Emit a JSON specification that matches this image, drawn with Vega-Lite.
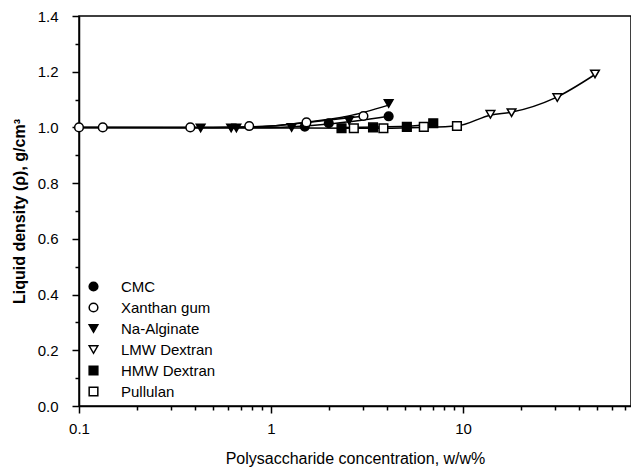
{
  "$schema": "https://vega.github.io/schema/vega-lite/v6.json",
  "width": 552,
  "height": 390,
  "autosize": {"type": "none"},
  "padding": {"left": 79, "top": 16, "right": 0, "bottom": 64},
  "background": "white",
  "config": {
    "font": "Liberation Sans",
    "view": {"stroke": "black", "strokeWidth": 1.5},
    "axis": {"domainColor": "black", "domainWidth": 1.5, "tickColor": "black", "tickWidth": 1.5, "grid": false, "labelColor": "black", "titleColor": "black", "labelFontSize": 15, "titleFontSize": 16, "labelFont": "Liberation Sans", "titleFont": "Liberation Sans", "labelFlush": false}
  },
  "datasets": {
    "pts": [
      {"series": "CMC", "conc": 1.5, "density": 1.003},
      {"series": "CMC", "conc": 2.0, "density": 1.015},
      {"series": "CMC", "conc": 4.1, "density": 1.04},
      {"series": "Xanthan gum", "conc": 0.1, "density": 1.0},
      {"series": "Xanthan gum", "conc": 0.133, "density": 1.0},
      {"series": "Xanthan gum", "conc": 0.38, "density": 1.0},
      {"series": "Xanthan gum", "conc": 0.77, "density": 1.005},
      {"series": "Xanthan gum", "conc": 1.53, "density": 1.018},
      {"series": "Xanthan gum", "conc": 3.03, "density": 1.041},
      {"series": "Na-Alginate", "conc": 0.43, "density": 0.998},
      {"series": "Na-Alginate", "conc": 0.62, "density": 0.998},
      {"series": "Na-Alginate", "conc": 0.66, "density": 0.998},
      {"series": "Na-Alginate", "conc": 1.28, "density": 1.0},
      {"series": "Na-Alginate", "conc": 2.55, "density": 1.025},
      {"series": "Na-Alginate", "conc": 4.1, "density": 1.086},
      {"series": "LMW Dextran", "conc": 13.9, "density": 1.047},
      {"series": "LMW Dextran", "conc": 17.9, "density": 1.053},
      {"series": "LMW Dextran", "conc": 31, "density": 1.107},
      {"series": "LMW Dextran", "conc": 48.7, "density": 1.192},
      {"series": "HMW Dextran", "conc": 2.33, "density": 0.997},
      {"series": "HMW Dextran", "conc": 3.4, "density": 1.0},
      {"series": "HMW Dextran", "conc": 5.1, "density": 1.002},
      {"series": "HMW Dextran", "conc": 7.0, "density": 1.015},
      {"series": "Pullulan", "conc": 2.7, "density": 0.997},
      {"series": "Pullulan", "conc": 3.85, "density": 0.997},
      {"series": "Pullulan", "conc": 6.25, "density": 1.002},
      {"series": "Pullulan", "conc": 9.3, "density": 1.005}
    ],
    "fit": [
      {"curve": "a", "conc": 0.1, "density": 1.0},
      {"curve": "a", "conc": 0.5, "density": 1.0},
      {"curve": "a", "conc": 1.0, "density": 1.005},
      {"curve": "a", "conc": 1.5, "density": 1.018},
      {"curve": "a", "conc": 2.5, "density": 1.04},
      {"curve": "a", "conc": 4.1, "density": 1.08},
      {"curve": "b", "conc": 0.1, "density": 1.0},
      {"curve": "b", "conc": 0.5, "density": 1.0},
      {"curve": "b", "conc": 1.0, "density": 1.005},
      {"curve": "b", "conc": 1.5, "density": 1.017},
      {"curve": "b", "conc": 3.0, "density": 1.04},
      {"curve": "c", "conc": 0.1, "density": 1.0},
      {"curve": "c", "conc": 1.0, "density": 1.0},
      {"curve": "c", "conc": 2.0, "density": 1.012},
      {"curve": "c", "conc": 4.1, "density": 1.04},
      {"curve": "d", "conc": 0.1, "density": 1.0},
      {"curve": "d", "conc": 1.0, "density": 0.998},
      {"curve": "d", "conc": 3.0, "density": 0.997},
      {"curve": "d", "conc": 6.0, "density": 1.0},
      {"curve": "d", "conc": 9.3, "density": 1.005},
      {"curve": "d", "conc": 14, "density": 1.045},
      {"curve": "d", "conc": 18, "density": 1.055},
      {"curve": "d", "conc": 30, "density": 1.105},
      {"curve": "d", "conc": 48.7, "density": 1.19},
      {"curve": "e", "conc": 2.3, "density": 1.0},
      {"curve": "e", "conc": 5.1, "density": 1.004},
      {"curve": "e", "conc": 7.0, "density": 1.015}
    ]
  },
  "resolve": {"axis": {"x": "independent", "y": "independent"}},
  "layer": [
    {
      "data": {"name": "fit"},
      "mark": {"type": "line", "color": "black", "strokeWidth": 1.5, "interpolate": "monotone"},
      "encoding": {
        "x": {"field": "conc", "type": "quantitative", "scale": {"type": "log", "domain": [0.1, 75], "nice": false},
              "axis": {"orient": "bottom", "values": [0.2,0.3,0.4,0.5,0.6,0.7,0.8,0.9,2,3,4,5,6,7,8,9,20,30,40,50,60,70], "labels": false, "tickSize": 4, "title": null, "domain": false}},
        "y": {"field": "density", "type": "quantitative", "scale": {"domain": [0, 1.4], "nice": false, "zero": false},
              "axis": {"orient": "left", "values": [0.1,0.3,0.5,0.7,0.9,1.1,1.3], "labels": false, "tickSize": 4, "title": null, "domain": false}},
        "detail": {"field": "curve"}
      }
    },
    {
      "data": {"name": "pts"},
      "mark": {"type": "point", "filled": true, "stroke": "black", "strokeWidth": 1.5, "size": 75, "opacity": 1},
      "encoding": {
        "x": {"field": "conc", "type": "quantitative",
              "axis": {"orient": "bottom", "values": [0.1, 1, 10], "format": "~g", "tickSize": 7, "labelPadding": 8, "title": "Polysaccharide concentration, w/w%", "titleFontWeight": "normal", "titlePadding": 14}},
        "y": {"field": "density", "type": "quantitative",
              "axis": {"orient": "left", "values": [0, 0.2, 0.4, 0.6, 0.8, 1.0, 1.2, 1.4], "format": ".1f", "tickSize": 7, "labelPadding": 14, "title": "Liquid density (ρ), g/cm³", "titleFontWeight": "bold", "titlePadding": 10}},
        "shape": {"field": "series", "type": "nominal",
                  "scale": {"domain": ["CMC", "Xanthan gum", "Na-Alginate", "LMW Dextran", "HMW Dextran", "Pullulan"],
                            "range": ["circle", "circle", "triangle-down", "triangle-down", "square", "square"]},
                  "legend": {"title": null, "orient": "none", "legendX": 7, "legendY": 263, "labelFontSize": 15, "labelFont": "Liberation Sans", "labelColor": "black", "labelOffset": 20, "rowPadding": 5, "symbolSize": 75, "padding": 0,
                             "encode": {"symbols": {"update": {"stroke": {"value": "black"}, "strokeWidth": {"value": 1.5}}}}}},
        "fill": {"field": "series", "type": "nominal",
                 "scale": {"domain": ["CMC", "Xanthan gum", "Na-Alginate", "LMW Dextran", "HMW Dextran", "Pullulan"],
                           "range": ["black", "white", "black", "white", "black", "white"]},
                 "legend": {"title": null, "orient": "none", "legendX": 7, "legendY": 263, "labelFontSize": 15, "labelFont": "Liberation Sans", "labelColor": "black", "labelOffset": 20, "rowPadding": 5, "symbolSize": 75, "padding": 0,
                            "encode": {"symbols": {"update": {"stroke": {"value": "black"}, "strokeWidth": {"value": 1.5}}}}}}
      }
    }
  ]
}
